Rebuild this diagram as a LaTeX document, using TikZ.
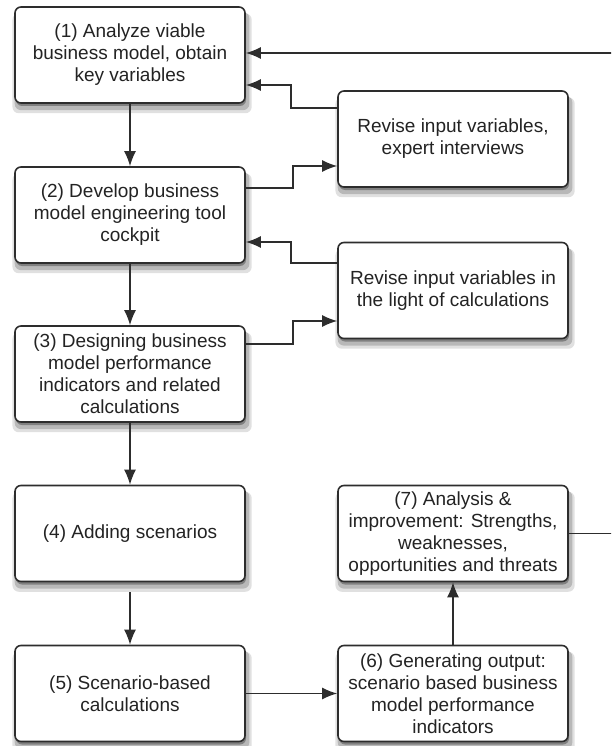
\documentclass[tikz,border=0pt]{standalone}
\usepackage{fontspec}
\setmainfont{Liberation Sans}
\usetikzlibrary{shadows,arrows.meta}
\definecolor{boxline}{RGB}{45,45,45}
\definecolor{boxtext}{RGB}{35,35,35}
\tikzstyle{stage}=[draw=boxline, line width=1.6pt, rounded corners=6pt, fill=white,
  minimum width=230pt, minimum height=96pt, inner sep=2pt, align=center, text=boxtext,
  font=\fontsize{19}{22}\selectfont,
  general shadow={shadow xshift=2pt, shadow yshift=-8pt, shadow scale=1.04, fill=black, opacity=0.12},
  general shadow={shadow xshift=2pt, shadow yshift=-6pt, shadow scale=1.02, fill=black, opacity=0.18},
  general shadow={shadow xshift=1pt, shadow yshift=-3pt, fill=black, opacity=0.3}]
\tikzstyle{flow}=[-{Latex[length=15pt,width=12pt]}, line width=1.5pt, color=boxline]

\begin{document}
\begin{tikzpicture}[x=1pt,y=-1pt]
  \useasboundingbox (0,0) rectangle (611,746);
  \clip (0,0) rectangle (611,746);

  %% Main column
  \draw (130,55) node[stage] (B1) {(1) Analyze viable\\business model, obtain\\key variables};
  \draw (130,215) node[stage] (B2) {(2) Develop business\\model engineering tool\\cockpit};
  \draw (130,374) node[stage] (B3) {(3) Designing business\\model performance\\indicators and related\\calculations};
  \draw (130,533.5) node[stage] (B4) {(4) Adding scenarios};
  \draw (130,693.5) node[stage] (B5) {(5) Scenario-based\\calculations};

  %% Revision loops and output
  \draw (453,139) node[stage] (R1) {Revise input variables,\\expert interviews};
  \draw (453,290.5) node[stage] (R2) {Revise input variables in\\the light of calculations};
  \draw (453,533.5) node[stage] (B7) {(7) Analysis \&\\improvement: Strengths,\\weaknesses,\\opportunities and threats};
  \draw (453,693.5) node[stage] (B6) {(6) Generating output:\\scenario based business\\model performance\\indicators};

  \draw[flow] (B1) -- (B2);
  \draw[flow] (B2) -- (B3);
  \draw[flow] (B3) -- (B4);
  \draw[flow, shorten <=10pt] (B4) -- (B5);
  \draw[flow] (B5) -- (B6);
  \draw[flow] (B6) -- (B7);

  \draw[flow] ([yshift=31pt]R1.west) -- ++(-46,0) |- ([yshift=-30pt]B1.east);
  \draw[flow] ([yshift=27pt]B2.east) -- ++(47,0) |- ([yshift=-27pt]R1.west);
  \draw[flow] ([yshift=27.5pt]R2.west) -- ++(-46,0) |- ([yshift=-27pt]B2.east);
  \draw[flow] ([yshift=30pt]B3.east) -- ++(47,0) |- ([yshift=-30.5pt]R2.west);

  %% Feedback to the start
  \coordinate (loop) at (640,533.5);
  \draw[flow] (B7.east) -- (loop) |- ([yshift=2pt]B1.east);
\end{tikzpicture}
\end{document}
